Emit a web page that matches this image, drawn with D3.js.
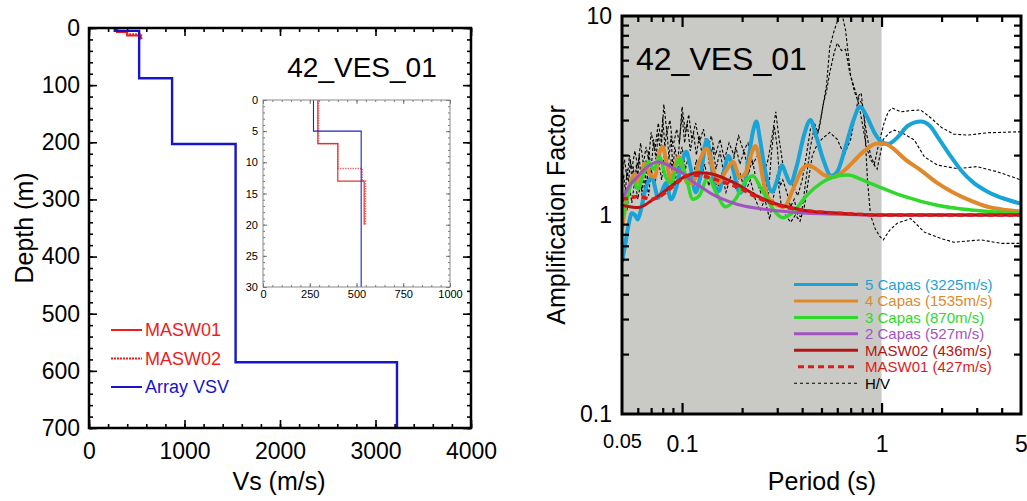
<!DOCTYPE html>
<html>
<head>
<meta charset="utf-8">
<script src="https://cdn.jsdelivr.net/npm/d3@7"></script>
<style>
  body { margin: 0; background: #fff; }
  svg { display: block; font-family: "Liberation Sans", Arial, sans-serif; }
</style>
</head>
<body>
<svg id="chart" width="1027" height="501"></svg>
<script>
// ---------- data: Vs profiles (layer tops in m, velocity in m/s) ----------
const vsvDepth = [0, 5, 88, 203, 585, 700];
const vsvVel = [270, 525, 870, 1535, 3225];
const masw01Depth = [0, 7, 13, 20];
const masw01Vel = [293, 400, 541];
const masw02Depth = [0, 7, 11, 13, 20];
const masw02Vel = [297, 400, 530, 548];

const vsTicks = [0, 1000, 2000, 3000, 4000];
const depthTicks = [0, 100, 200, 300, 400, 500, 600, 700];
const insetVsTicks = [0, 250, 500, 750, 1000];
const insetDepthTicks = [0, 5, 10, 15, 20, 25, 30];

// ---------- data: amplification curves [period (s), factor] ----------
const capas5 = [[0.05,0.58],[0.052,0.72],[0.054,0.9],[0.056,1.02],[0.058,1.0],[0.06,0.95],[0.062,1.05],[0.065,1.3],[0.0705,1.55],[0.076,1.22],[0.079,1.3],[0.083,1.45],[0.088,1.2],[0.094,1.4],[0.1,1.85],[0.105,2.08],[0.11,1.75],[0.117,1.3],[0.124,1.6],[0.133,2.38],[0.139,1.95],[0.146,1.38],[0.153,1.32],[0.162,1.65],[0.171,1.98],[0.18,1.7],[0.195,1.29],[0.205,1.4],[0.215,1.9],[0.228,2.7],[0.236,2.95],[0.245,2.45],[0.26,1.7],[0.283,1.31],[0.3,1.5],[0.317,1.78],[0.332,1.6],[0.349,1.44],[0.375,1.75],[0.41,2.55],[0.44,3.0],[0.47,2.5],[0.51,1.9],[0.56,1.57],[0.6,1.65],[0.66,2.2],[0.72,2.95],[0.78,3.5],[0.84,3.15],[0.92,2.6],[1.0,2.33],[1.08,2.28],[1.2,2.45],[1.35,2.8],[1.57,2.95],[1.75,2.8],[1.91,2.47],[2.2,2.0],[2.5,1.68],[2.9,1.45],[3.4,1.31],[4.2,1.2],[5,1.14]];
const capas4 = [[0.05,0.85],[0.052,1.1],[0.055,1.45],[0.058,1.6],[0.061,1.45],[0.065,1.82],[0.069,1.6],[0.073,1.55],[0.077,2.05],[0.08,2.2],[0.084,1.8],[0.088,1.5],[0.092,1.75],[0.096,1.96],[0.1,1.8],[0.106,1.45],[0.113,1.45],[0.122,1.85],[0.133,2.16],[0.142,1.75],[0.152,1.45],[0.165,1.65],[0.18,1.85],[0.195,1.55],[0.21,1.65],[0.225,2.1],[0.233,2.22],[0.242,2.0],[0.255,1.5],[0.27,1.22],[0.3,1.12],[0.325,1.1],[0.36,1.35],[0.4,1.7],[0.43,1.78],[0.47,1.7],[0.52,1.58],[0.57,1.55],[0.64,1.65],[0.72,1.85],[0.82,2.1],[0.95,2.29],[1.05,2.27],[1.15,2.15],[1.3,1.92],[1.57,1.68],[1.9,1.45],[2.31,1.29],[2.8,1.18],[3.4,1.1],[4.2,1.06],[5,1.04]];
const capas3 = [[0.05,0.95],[0.053,1.2],[0.057,1.5],[0.06,1.35],[0.064,1.6],[0.068,1.85],[0.072,1.7],[0.077,1.95],[0.083,1.55],[0.088,1.45],[0.097,1.9],[0.105,1.55],[0.113,1.2],[0.122,1.25],[0.135,1.55],[0.148,1.3],[0.165,1.1],[0.185,1.2],[0.21,1.5],[0.226,1.57],[0.25,1.35],[0.29,1.05],[0.32,0.97],[0.36,1.03],[0.42,1.25],[0.5,1.45],[0.6,1.57],[0.68,1.59],[0.78,1.52],[0.88,1.44],[1.0,1.37],[1.3,1.24],[1.9,1.12],[2.8,1.06],[5,1.02]];
const capas2 = [[0.05,1.2],[0.055,1.42],[0.06,1.56],[0.065,1.7],[0.07,1.8],[0.076,1.85],[0.083,1.8],[0.09,1.72],[0.103,1.6],[0.11,1.5],[0.125,1.38],[0.14,1.28],[0.16,1.2],[0.19,1.13],[0.24,1.08],[0.3,1.05],[0.42,1.02],[0.6,1.01],[1,1.0],[5,1.0]];
const masw02Amp = [[0.05,1.12],[0.055,1.1],[0.06,1.09],[0.065,1.12],[0.07,1.18],[0.079,1.28],[0.09,1.42],[0.103,1.56],[0.112,1.61],[0.12,1.63],[0.135,1.62],[0.15,1.58],[0.17,1.5],[0.19,1.42],[0.215,1.32],[0.24,1.24],[0.287,1.15],[0.35,1.09],[0.42,1.05],[0.62,1.02],[1,1.0],[5,1.0]];
const masw01Amp = [[0.05,1.2],[0.055,1.22],[0.06,1.24],[0.065,1.22],[0.07,1.2],[0.075,1.22],[0.083,1.3],[0.092,1.42],[0.1,1.52],[0.111,1.59],[0.122,1.58],[0.135,1.55],[0.15,1.5],[0.175,1.42],[0.198,1.36],[0.21,1.31],[0.24,1.22],[0.287,1.14],[0.35,1.08],[0.42,1.05],[0.62,1.02],[1,1.0],[5,1.0]];

// H/V: mean and the two spread curves
const hvMean = [[0.050,1.35],[0.051,1.6],[0.052,1.3],[0.053,1.7],[0.054,1.45],[0.055,1.9],[0.056,1.5],[0.057,1.75],[0.058,1.4],[0.059,1.8],[0.060,1.55],[0.061,2.0],[0.062,1.6],[0.063,1.3],[0.064,1.7],[0.065,1.2],[0.066,1.9],[0.067,1.5],[0.068,2.1],[0.070,1.7],[0.072,2.4],[0.074,1.9],[0.076,2.6],[0.078,2.0],[0.080,3.1],[0.082,2.2],[0.084,2.7],[0.086,1.9],[0.088,2.5],[0.090,1.7],[0.092,2.2],[0.095,1.8],[0.098,2.6],[0.100,3.2],[0.103,2.3],[0.106,2.9],[0.110,2.1],[0.114,2.6],[0.118,2.0],[0.122,2.5],[0.127,1.9],[0.132,2.4],[0.137,1.8],[0.142,2.2],[0.148,1.7],[0.155,2.1],[0.162,1.6],[0.170,2.0],[0.178,1.7],[0.186,2.2],[0.195,1.8],[0.205,2.1],[0.215,1.6],[0.225,1.9],[0.235,1.5],[0.248,1.3],[0.26,1.6],[0.27,1.2],[0.28,2.0],[0.29,2.8],[0.30,2.2],[0.31,1.4],[0.32,1.5],[0.335,1.3],[0.35,1.1],[0.365,1.2],[0.38,1.0],[0.395,0.98],[0.41,1.3],[0.425,1.7],[0.44,2.2],[0.455,2.6],[0.47,2.4],[0.49,2.8],[0.51,3.6],[0.53,4.2],[0.55,5.2],[0.58,6.6],[0.60,7.3],[0.63,6.7],[0.66,6.8],[0.69,5.3],[0.73,4.2],[0.77,3.6],[0.80,2.9],[0.84,2.2],[0.88,1.9],[0.95,1.7],[1.02,2.4],[1.1,2.6],[1.16,2.67],[1.3,2.55],[1.46,2.38],[1.64,1.96],[1.91,1.78],[2.4,1.71],[3.0,1.75],[3.8,1.65],[5,1.5]];
const hvUpper = [[0.05,1.6],[0.0515,1.9],[0.053,1.5],[0.0545,2.0],[0.056,1.7],[0.058,2.1],[0.06,1.75],[0.062,2.3],[0.064,1.8],[0.066,2.2],[0.068,1.9],[0.07,2.6],[0.073,2.1],[0.076,2.9],[0.079,2.3],[0.081,3.6],[0.084,2.6],[0.087,3.0],[0.09,2.2],[0.094,2.7],[0.097,2.3],[0.1,3.5],[0.104,2.6],[0.108,3.2],[0.112,2.4],[0.117,2.9],[0.122,2.3],[0.128,2.7],[0.134,2.1],[0.14,2.5],[0.147,2.0],[0.155,2.4],[0.163,1.9],[0.172,2.3],[0.182,2.0],[0.192,2.5],[0.203,2.1],[0.214,2.3],[0.226,1.8],[0.24,2.0],[0.255,1.6],[0.27,1.9],[0.285,2.6],[0.295,3.3],[0.305,2.5],[0.32,1.8],[0.34,1.5],[0.36,1.4],[0.38,1.25],[0.4,1.5],[0.42,2.0],[0.44,2.7],[0.46,2.9],[0.48,2.6],[0.5,3.2],[0.53,4.5],[0.55,7.0],[0.58,8.5],[0.61,9.8],[0.63,10.5],[0.66,8.5],[0.70,5.0],[0.75,4.0],[0.80,3.6],[0.84,2.6],[0.88,2.0],[0.92,1.8],[0.97,2.3],[1.03,2.9],[1.08,3.3],[1.13,3.45],[1.25,3.3],[1.4,3.35],[1.57,3.37],[1.75,3.1],[2.0,2.75],[2.3,2.55],[2.7,2.52],[3.4,2.59],[5,2.62]];
const hvLower = [[0.05,1.1],[0.0515,1.3],[0.053,1.05],[0.0545,1.4],[0.056,1.15],[0.058,1.5],[0.06,1.2],[0.062,1.45],[0.064,1.1],[0.066,1.5],[0.068,1.25],[0.07,1.7],[0.073,1.4],[0.076,1.9],[0.079,1.5],[0.082,2.1],[0.085,1.6],[0.088,1.9],[0.091,1.4],[0.095,1.7],[0.1,2.2],[0.104,1.7],[0.108,2.0],[0.113,1.5],[0.118,1.9],[0.124,1.5],[0.13,1.8],[0.136,1.4],[0.143,1.7],[0.15,1.35],[0.158,1.6],[0.166,1.3],[0.175,1.55],[0.185,1.35],[0.196,1.6],[0.207,1.3],[0.22,1.5],[0.233,1.2],[0.246,1.05],[0.26,1.2],[0.275,0.95],[0.29,1.3],[0.3,1.6],[0.315,1.1],[0.33,1.0],[0.35,0.92],[0.37,1.0],[0.39,0.93],[0.41,1.1],[0.43,1.5],[0.45,2.0],[0.47,2.2],[0.5,2.4],[0.55,2.6],[0.6,2.4],[0.65,2.0],[0.7,2.4],[0.74,3.2],[0.77,4.0],[0.79,4.1],[0.82,3.0],[0.85,1.5],[0.88,1.0],[0.93,0.85],[0.98,0.78],[1.02,0.75],[1.1,0.84],[1.2,0.91],[1.4,0.96],[1.64,0.82],[2.0,0.76],[2.3,0.73],[3.15,0.75],[4,0.72],[5,0.72]];

const periodTicks = [0.05, 0.1, 1, 5];
const periodLabels = ["0.05", "0.1", "1", "5"];
const ampTicks = [0.1, 1, 10];
const ampLabels = ["0.1", "1", "10"];

const ampSeries = [
  { label: "5 Capas (3225m/s)", data: capas5, color: "#1aa3d6", width: 4, dash: null },
  { label: "4 Capas (1535m/s)", data: capas4, color: "#e0892b", width: 4, dash: null },
  { label: "3 Capas (870m/s)", data: capas3, color: "#2fd82a", width: 3.5, dash: null },
  { label: "2 Capas (527m/s)", data: capas2, color: "#a452c2", width: 3, dash: null },
  { label: "MASW02 (436m/s)", data: masw02Amp, color: "#b51414", width: 3, dash: null },
  { label: "MASW01 (427m/s)", data: masw01Amp, color: "#dd1a1a", width: 3.5, dash: "6,4" }
];

const svg = d3.select("#chart");
const font = "Liberation Sans, Arial, sans-serif";
const defs = svg.append("defs");

// ======================= LEFT: Vs profile =======================
const vsX = d3.scaleLinear().domain([0, 4000]).range([89, 471]);
const depthY = d3.scaleLinear().domain([0, 700]).range([28, 428]);

function steps(tops, vels) {
  const pts = [];
  vels.forEach((v, i) => { pts.push([v, tops[i]]); pts.push([v, tops[i + 1]]); });
  return pts;
}

const left = svg.append("g");

function styleAxis(g, size) {
  g.attr("font-family", font).attr("font-size", size);
  g.select(".domain").remove();
  g.selectAll(".tick line").attr("stroke", "#000").attr("stroke-width", 1.6);
  g.selectAll(".tick text").attr("fill", "#000");
}

// minor ticks (every 200 m/s, 20 m)
const vsMinor = d3.range(0, 4001, 200);
const depthMinor = d3.range(0, 701, 20);
left.append("g").attr("transform", "translate(0,428)")
  .call(d3.axisBottom(vsX).tickValues(vsMinor).tickSize(-4).tickFormat(""))
  .call(g => styleAxis(g, 23));
left.append("g").attr("transform", "translate(0,28)")
  .call(d3.axisTop(vsX).tickValues(vsMinor).tickSize(-4).tickFormat(""))
  .call(g => styleAxis(g, 23));
left.append("g").attr("transform", "translate(89,0)")
  .call(d3.axisLeft(depthY).tickValues(depthMinor).tickSize(-4).tickFormat(""))
  .call(g => styleAxis(g, 23));
left.append("g").attr("transform", "translate(471,0)")
  .call(d3.axisRight(depthY).tickValues(depthMinor).tickSize(-4).tickFormat(""))
  .call(g => styleAxis(g, 23));
// major ticks + labels
left.append("g").attr("transform", "translate(0,428)")
  .call(d3.axisBottom(vsX).tickValues(vsTicks).tickSize(-8).tickPadding(15).tickFormat(d3.format("d")))
  .call(g => styleAxis(g, 23));
left.append("g").attr("transform", "translate(0,28)")
  .call(d3.axisTop(vsX).tickValues(vsTicks).tickSize(-8).tickFormat(""))
  .call(g => styleAxis(g, 23));
left.append("g").attr("transform", "translate(89,0)")
  .call(d3.axisLeft(depthY).tickValues(depthTicks).tickSize(-8).tickPadding(9).tickFormat(d3.format("d")))
  .call(g => styleAxis(g, 23));
left.append("g").attr("transform", "translate(471,0)")
  .call(d3.axisRight(depthY).tickValues(depthTicks).tickSize(-8).tickFormat(""))
  .call(g => styleAxis(g, 23));

const vsLine = d3.line().x(d => vsX(d[0])).y(d => depthY(d[1]));
left.append("path").datum(steps(masw02Depth, masw02Vel))
  .attr("d", vsLine).attr("fill", "none").attr("stroke", "#ef2a2a")
  .attr("stroke-width", 2).attr("stroke-dasharray", "2,1");
left.append("path").datum(steps(masw01Depth, masw01Vel))
  .attr("d", vsLine).attr("fill", "none").attr("stroke", "#ee1c1c").attr("stroke-width", 2);
left.append("path").datum(steps(vsvDepth, vsvVel))
  .attr("d", vsLine).attr("fill", "none").attr("stroke", "#1616c8").attr("stroke-width", 2.4);

left.append("rect").attr("x", 89).attr("y", 28).attr("width", 382).attr("height", 400)
  .attr("fill", "none").attr("stroke", "#000").attr("stroke-width", 2.5);

left.append("text").attr("x", 362).attr("y", 77).attr("text-anchor", "middle")
  .attr("font-size", 28).text("42_VES_01");
left.append("text").attr("x", 279).attr("y", 490).attr("text-anchor", "middle")
  .attr("font-size", 25).text("Vs (m/s)");
left.append("text").attr("transform", "translate(33,228) rotate(-90)")
  .attr("text-anchor", "middle").attr("font-size", 25).text("Depth (m)");

// left legend
const leftLegend = [
  { label: "MASW01", color: "#ee1c1c", dash: null },
  { label: "MASW02", color: "#ee1c1c", dash: "2,1" },
  { label: "Array VSV", color: "#1616c8", dash: null }
];
leftLegend.forEach((d, i) => {
  const y = 330 + i * 28.5;
  left.append("line").attr("x1", 111).attr("x2", 142).attr("y1", y).attr("y2", y)
    .attr("stroke", d.color).attr("stroke-width", 2).attr("stroke-dasharray", d.dash);
  left.append("text").attr("x", 145).attr("y", y).attr("dy", "0.36em")
    .attr("font-size", 18).attr("fill", d.color).text(d.label);
});

// inset (zoom on top 30 m)
const inX = d3.scaleLinear().domain([0, 1000]).range([263, 450]);
const inY = d3.scaleLinear().domain([0, 30]).range([100, 287]);
defs.append("clipPath").attr("id", "clipInset")
  .append("rect").attr("x", 263).attr("y", 100).attr("width", 187).attr("height", 187);
const inset = svg.append("g");
inset.append("rect").attr("x", 263).attr("y", 100).attr("width", 187).attr("height", 187)
  .attr("fill", "#fff");
function styleInset(g) {
  g.attr("font-family", font).attr("font-size", 11);
  g.select(".domain").remove();
  g.selectAll(".tick line").attr("stroke", "#555").attr("stroke-width", 0.8);
}
const inXMinor = d3.range(0, 1001, 50);
const inYMinor = d3.range(0, 31, 1);
inset.append("g").attr("transform", "translate(0,287)")
  .call(d3.axisBottom(inX).tickValues(inXMinor).tickSize(-2).tickFormat("")).call(styleInset);
inset.append("g").attr("transform", "translate(0,100)")
  .call(d3.axisTop(inX).tickValues(inXMinor).tickSize(-2).tickFormat("")).call(styleInset);
inset.append("g").attr("transform", "translate(263,0)")
  .call(d3.axisLeft(inY).tickValues(inYMinor).tickSize(-2).tickFormat("")).call(styleInset);
inset.append("g").attr("transform", "translate(450,0)")
  .call(d3.axisRight(inY).tickValues(inYMinor).tickSize(-2).tickFormat("")).call(styleInset);
inset.append("g").attr("transform", "translate(0,287)")
  .call(d3.axisBottom(inX).tickValues(insetVsTicks).tickSize(-4).tickPadding(3).tickFormat(d3.format("d"))).call(styleInset);
inset.append("g").attr("transform", "translate(0,100)")
  .call(d3.axisTop(inX).tickValues(insetVsTicks).tickSize(-4).tickFormat("")).call(styleInset);
inset.append("g").attr("transform", "translate(263,0)")
  .call(d3.axisLeft(inY).tickValues(insetDepthTicks).tickSize(-4).tickPadding(5).tickFormat(d3.format("d"))).call(styleInset);
inset.append("g").attr("transform", "translate(450,0)")
  .call(d3.axisRight(inY).tickValues(insetDepthTicks).tickSize(-4).tickFormat("")).call(styleInset);

const inLine = d3.line().x(d => inX(d[0])).y(d => inY(d[1]));
const inPlot = inset.append("g").attr("clip-path", "url(#clipInset)");
inPlot.append("path").datum(steps(masw02Depth, masw02Vel)).attr("d", inLine)
  .attr("fill", "none").attr("stroke", "#f07070").attr("stroke-width", 1.6).attr("stroke-dasharray", "1.5,1");
inPlot.append("path").datum(steps(masw01Depth, masw01Vel)).attr("d", inLine)
  .attr("fill", "none").attr("stroke", "#e83030").attr("stroke-width", 1.2);
inPlot.append("path").datum(steps(vsvDepth, vsvVel)).attr("d", inLine)
  .attr("fill", "none").attr("stroke", "#2020c0").attr("stroke-width", 1.1);
inset.append("rect").attr("x", 263).attr("y", 100).attr("width", 187).attr("height", 187)
  .attr("fill", "none").attr("stroke", "#8a8a8a").attr("stroke-width", 1);

// ======================= RIGHT: amplification =======================
const perX = d3.scaleLog().domain([0.05, 5]).range([622, 1021]);
const ampY = d3.scaleLog().domain([0.1, 10]).range([414, 16]);
const right = svg.append("g");

defs.append("clipPath").attr("id", "clipR")
  .append("rect").attr("x", 622).attr("y", 16).attr("width", 399).attr("height", 398);

right.append("rect").attr("x", 622).attr("y", 16)
  .attr("width", perX(1) - 622).attr("height", 398).attr("fill", "#c9cac5");

const plot = right.append("g").attr("clip-path", "url(#clipR)");
const ampLine = d3.line().x(d => perX(d[0])).y(d => ampY(d[1]));
[hvLower, hvUpper, hvMean].forEach(s => {
  plot.append("path").datum(s).attr("d", ampLine).attr("fill", "none")
    .attr("stroke", "#000").attr("stroke-width", 1.1).attr("stroke-dasharray", "3,2");
});
const smooth = d3.line().curve(d3.curveMonotoneX).x(d => perX(d[0])).y(d => ampY(d[1]));
ampSeries.forEach(s => {
  plot.append("path").datum(s.data).attr("d", smooth).attr("fill", "none")
    .attr("stroke", s.color).attr("stroke-width", s.width).attr("stroke-dasharray", s.dash);
});

// ticks
const perAll = perX.ticks();
const ampAll = ampY.ticks();
const perMajor = [0.1, 1];
const perMinor = perAll.filter(d => d > 0.05 && !perMajor.includes(d) && d < 5);
const ampMinor = ampAll.filter(d => !ampTicks.includes(d));
function styleR(g) {
  g.attr("font-family", font).attr("font-size", 23);
  g.select(".domain").remove();
  g.selectAll(".tick line").attr("stroke", "#000").attr("stroke-width", 2.2);
  g.selectAll(".tick text").attr("fill", "#000");
}
right.append("g").attr("transform", "translate(0,414)")
  .call(d3.axisBottom(perX).tickValues(perMinor).tickSize(-6).tickFormat("")).call(styleR);
right.append("g").attr("transform", "translate(0,16)")
  .call(d3.axisTop(perX).tickValues(perMinor).tickSize(-6).tickFormat("")).call(styleR);
right.append("g").attr("transform", "translate(0,414)")
  .call(d3.axisBottom(perX).tickValues(perMajor).tickSize(-11).tickFormat("")).call(styleR);
right.append("g").attr("transform", "translate(0,16)")
  .call(d3.axisTop(perX).tickValues(perMajor).tickSize(-11).tickFormat("")).call(styleR);
right.append("g").attr("transform", "translate(622,0)")
  .call(d3.axisLeft(ampY).tickValues(ampMinor).tickSize(-7).tickFormat("")).call(styleR);
right.append("g").attr("transform", "translate(1021,0)")
  .call(d3.axisRight(ampY).tickValues(ampMinor).tickSize(-7).tickFormat("")).call(styleR);
// labels
right.append("g").attr("transform", "translate(0,414)")
  .call(d3.axisBottom(perX).tickValues(periodTicks).tickSize(0).tickPadding(22)
    .tickFormat((d, i) => periodLabels[i]))
  .call(styleR)
  .call(g => g.selectAll(".tick text").filter(d => d === 0.05).attr("font-size", 20).attr("dy", "0.62em"));
right.append("g").attr("transform", "translate(622,0)")
  .call(d3.axisLeft(ampY).tickValues(ampTicks).tickSize(0).tickPadding(10)
    .tickFormat((d, i) => ampLabels[i]))
  .call(styleR);

right.append("rect").attr("x", 622).attr("y", 16).attr("width", 399).attr("height", 398)
  .attr("fill", "none").attr("stroke", "#000").attr("stroke-width", 3);

right.append("text").attr("x", 636).attr("y", 70).attr("font-size", 32).text("42_VES_01");
right.append("text").attr("x", 822).attr("y", 490).attr("text-anchor", "middle")
  .attr("font-size", 25).text("Period (s)");
right.append("text").attr("transform", "translate(565,215) rotate(-90)")
  .attr("text-anchor", "middle").attr("font-size", 25).text("Amplification Factor");

// right legend
const legendRows = ampSeries.concat([{ label: "H/V", color: "#000", width: 1.1, dash: "3,3" }]);
legendRows.forEach((d, i) => {
  const y = 284.5 + i * 16.45;
  const dashed = d.dash === "6,4";
  right.append("line").attr("x1", dashed ? 798 : 794).attr("x2", dashed ? 854 : 858)
    .attr("y1", y).attr("y2", y).attr("stroke", d.color)
    .attr("stroke-width", d.label === "H/V" ? 1.1 : 3).attr("stroke-dasharray", d.dash);
  right.append("text").attr("x", 865).attr("y", y).attr("dy", "0.36em")
    .attr("font-size", 15).attr("fill", d.color).text(d.label);
});
</script>
</body>
</html>
